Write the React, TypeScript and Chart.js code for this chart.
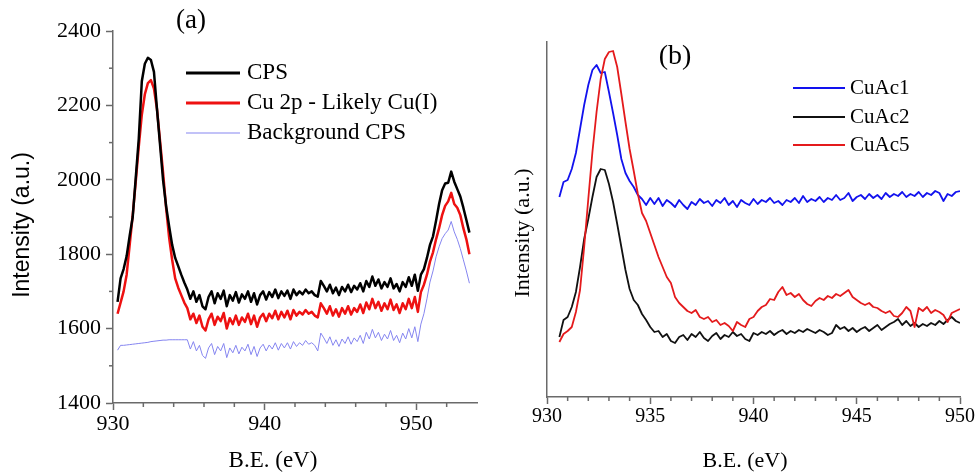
import React, { useEffect, useRef } from "react";
import { Chart, registerables } from "chart.js";

Chart.register(...registerables);

// ---------- Panel (a) data: energies start 930.3 eV, 0.2 eV spacing ----------
const A_START = 930.3;
const A_STEP = 0.2;
const A_CPS = [
  1672, 1735, 1760, 1795, 1850, 1900, 2005, 2111, 2265, 2312,
  2328, 2322, 2290, 2190, 2095, 2000, 1930, 1875, 1825, 1790,
  1768, 1745, 1724, 1705,
  1680, 1700, 1672, 1690, 1660,
  1652, 1685, 1700, 1668, 1695,
  1680, 1702, 1660, 1690, 1675,
  1698, 1670, 1692, 1680, 1700,
  1672, 1695, 1665, 1690, 1700,
  1678, 1698, 1685, 1705, 1682,
  1700, 1688, 1702, 1680, 1705,
  1690, 1700, 1692, 1705, 1695,
  1700, 1690, 1686, 1728, 1715,
  1700, 1718, 1695, 1710, 1690,
  1712, 1700, 1718, 1698, 1715,
  1705, 1722, 1700, 1728, 1712,
  1740, 1715, 1732, 1708, 1725,
  1712, 1735, 1708, 1720, 1700,
  1725, 1712, 1738, 1715, 1745,
  1702,
  1745, 1760, 1790, 1825, 1848, 1890, 1935, 1972, 1990, 1992,
  2022, 1995, 1975, 1955, 1925, 1892, 1858,
];
const A_CU2P = [
  1640, 1670, 1700, 1745, 1825, 1905, 1995, 2090, 2175, 2230,
  2260, 2268, 2245, 2190, 2105, 2020, 1925, 1845, 1785, 1735,
  1710, 1690, 1670, 1655,
  1625, 1640, 1615, 1635, 1605,
  1595, 1625, 1640, 1610, 1632,
  1620, 1642, 1600, 1628, 1612,
  1635, 1610, 1630, 1618, 1640,
  1612, 1635, 1605, 1630, 1640,
  1620, 1640, 1628, 1648, 1625,
  1645, 1630, 1648, 1625, 1650,
  1635, 1645, 1638, 1650, 1640,
  1645, 1635, 1630, 1668, 1655,
  1640, 1660, 1635, 1652, 1632,
  1655, 1640, 1660, 1638, 1655,
  1645, 1665, 1642, 1670, 1652,
  1680, 1655, 1672, 1648, 1668,
  1652, 1678, 1650, 1665, 1642,
  1668, 1652, 1680, 1655, 1685,
  1645,
  1698, 1718, 1745, 1780, 1805, 1840, 1870, 1905, 1930, 1942,
  1965, 1935, 1925, 1905, 1870, 1840, 1800,
];
const A_BG = [
  1542, 1555, 1555, 1556, 1557, 1558, 1559, 1560, 1561, 1562,
  1563, 1565, 1566, 1567, 1568, 1569, 1569, 1570, 1570, 1570,
  1570, 1570, 1570, 1570,
  1545, 1565, 1540, 1555, 1528,
  1520, 1548, 1560, 1530, 1552,
  1540, 1560, 1522, 1548, 1535,
  1555, 1532, 1550, 1540, 1558,
  1530, 1552, 1525, 1548, 1558,
  1540, 1556, 1545, 1562, 1542,
  1560, 1548, 1562, 1545, 1565,
  1552, 1562, 1555, 1568, 1558,
  1562, 1555, 1540, 1588, 1575,
  1560, 1578, 1555, 1570, 1552,
  1572, 1560, 1578, 1558, 1575,
  1565, 1582, 1560, 1590, 1572,
  1598, 1575, 1590, 1568, 1585,
  1572, 1595, 1568, 1582, 1562,
  1588, 1572, 1600, 1575, 1605,
  1565,
  1612, 1640, 1680, 1725, 1755, 1793, 1820, 1842, 1855, 1865,
  1888, 1860, 1840, 1815, 1785, 1755, 1722,
];
const A_LABELS = ["CPS", "Cu 2p - Likely Cu(I)", "Background CPS"];
const A_X_MAJOR = [930, 940, 950];
const A_X_MINOR = [932, 934, 936, 938, 942, 944, 946, 948, 952];
const A_Y_MAJOR = [1400, 1600, 1800, 2000, 2200, 2400];
const A_Y_MINOR = [1500, 1700, 1900, 2100, 2300];

// ---------- Panel (b) data: energies start 930.6 eV, 0.2 eV spacing ----------
const B_START = 930.6;
const B_STEP = 0.2;
const B_CUAC1 = [
  200, 215, 217, 228, 244,
  268, 292, 312, 327, 332,
  324, 325, 305, 284, 262,
  238, 224, 216, 210, 202,
  198, 192, 199, 193, 199,
  191, 197, 194, 190, 197,
  192, 188, 195, 192, 198,
  194, 196, 191, 197, 194,
  199, 192, 196, 190, 197,
  194, 192, 198, 193, 197,
  195, 199, 194, 196, 192,
  197, 195, 199, 194, 201,
  195, 198, 196, 200, 195,
  199, 197, 202, 197, 199,
  204, 196, 200, 202, 198,
  203, 199, 202, 198, 204,
  200, 203, 201, 205, 200,
  203, 201, 205, 200, 204,
  202, 206, 204, 196, 203,
  201, 205, 206,
];
const B_CUAC2 = [
  60, 77, 80, 90, 105,
  130, 158, 178, 200, 220,
  228, 227, 213, 195, 173,
  150, 127, 108, 97, 92,
  83, 77, 70, 65, 66,
  60, 63, 56, 54, 60,
  62, 57, 63, 60, 65,
  59, 56, 61, 64, 58,
  62, 60, 65, 61, 63,
  58, 56, 64, 62, 65,
  63, 66, 62, 65, 67,
  63, 66, 64, 67, 65,
  68, 66, 64, 67, 65,
  62, 64, 72, 68, 70,
  66, 69, 65, 68, 70,
  66, 69, 72, 67, 70,
  73, 75, 78, 72, 76,
  71, 74, 70, 73, 71,
  74, 72, 76, 73, 77,
  80, 76, 74,
];
const B_CUAC5 = [
  55, 63, 66, 70, 85,
  107, 150, 198, 245, 285,
  318, 338, 345, 346, 330,
  303, 275, 248, 226, 203,
  184, 176, 164, 152, 140,
  130, 120, 114, 100, 94,
  90, 86, 84, 87, 80,
  78, 80, 75, 77, 72,
  74, 71, 66, 75, 72,
  70, 78, 80, 86, 90,
  92, 98, 97, 105, 110,
  102, 104, 100, 103, 97,
  93, 91, 96, 99, 97,
  101, 99, 103, 101, 104,
  107, 100, 97, 94, 92,
  94, 90, 89, 86, 84,
  86, 81, 80, 84, 90,
  86, 70, 89, 86, 90,
  84, 87, 85, 82, 75,
  84, 86, 88,
];
const B_LABELS = ["CuAc1", "CuAc2", "CuAc5"];
const B_X_MAJOR = [930, 935, 940, 945, 950];
const B_X_MINOR = [931, 932, 933, 934, 936, 937, 938, 939, 941, 942, 943, 944, 946, 947, 948, 949];

const X_TITLE = "B.E. (eV)";
const Y_TITLE = "Intensity (a.u.)";

const SERIF = "'Liberation Serif', 'Times New Roman', serif";
const SANS = "'Liberation Sans', Arial, sans-serif";
const AXIS_COLOR = "#6a6a6a";

function toPoints(start: number, step: number, values: number[]) {
  return values.map((v, i) => ({ x: +(start + step * i).toFixed(2), y: v }));
}

function makeMinorTicks(cfg: { x: number[]; y: number[]; len: number }) {
  return {
    id: "minorTicks",
    afterDraw(chart: any) {
      const ctx = chart.ctx;
      const xs = chart.scales.x;
      const ys = chart.scales.y;
      ctx.save();
      ctx.strokeStyle = AXIS_COLOR;
      ctx.lineWidth = 1.5;
      cfg.x.forEach((v) => {
        const px = xs.getPixelForValue(v);
        ctx.beginPath();
        ctx.moveTo(px, xs.top);
        ctx.lineTo(px, xs.top + cfg.len);
        ctx.stroke();
      });
      cfg.y.forEach((v) => {
        const py = ys.getPixelForValue(v);
        ctx.beginPath();
        ctx.moveTo(ys.right, py);
        ctx.lineTo(ys.right - cfg.len, py);
        ctx.stroke();
      });
      ctx.restore();
    },
  };
}

function makeDecor(cfg: any) {
  return {
    id: "decor",
    afterDraw(chart: any) {
      const ctx = chart.ctx;
      ctx.save();
      ctx.fillStyle = "#000";
      ctx.textBaseline = "middle";
      ctx.textAlign = "center";
      ctx.font = cfg.panelFont;
      ctx.fillText(cfg.panel, cfg.panelX, cfg.panelY);
      ctx.font = cfg.xTitleFont;
      ctx.fillText(X_TITLE, cfg.xTitleX, cfg.xTitleY);
      ctx.save();
      ctx.translate(cfg.yTitleX, cfg.yTitleY);
      ctx.rotate(-Math.PI / 2);
      ctx.font = cfg.yTitleFont;
      ctx.fillText(Y_TITLE, 0, 0);
      ctx.restore();
      chart.data.datasets.forEach((ds: any, i: number) => {
        const y = cfg.legendY[i];
        ctx.strokeStyle = ds.borderColor;
        ctx.lineWidth = cfg.legendLW[i];
        ctx.beginPath();
        ctx.moveTo(cfg.legendX0, y);
        ctx.lineTo(cfg.legendX1, y);
        ctx.stroke();
        ctx.textAlign = "left";
        ctx.font = cfg.legendFont;
        ctx.fillText(ds.label, cfg.legendTextX, y);
      });
      ctx.restore();
    },
  };
}

const plainLabel = (v: any) => String(v);

function axisX(min: number, max: number, major: number[], fontSize: number, height: number) {
  return {
    type: "linear",
    min,
    max,
    afterBuildTicks: (s: any) => {
      s.ticks = major.map((v) => ({ value: v }));
    },
    afterFit: (s: any) => {
      s.height = height;
    },
    border: { display: true, color: AXIS_COLOR, width: 1.5 },
    grid: { drawOnChartArea: false, drawTicks: true, tickLength: 7, color: AXIS_COLOR, tickWidth: 1.5 },
    ticks: { color: "#000", font: { family: SERIF, size: fontSize }, padding: 1, maxRotation: 0, autoSkip: false, callback: plainLabel },
    title: { display: false },
  };
}

function PanelA() {
  const ref = useRef<HTMLCanvasElement>(null);
  useEffect(() => {
    const chart = new Chart(ref.current as HTMLCanvasElement, {
      type: "line",
      data: {
        datasets: [
          { label: A_LABELS[0], data: toPoints(A_START, A_STEP, A_CPS), borderColor: "#000000", borderWidth: 2.5, order: 0 },
          { label: A_LABELS[1], data: toPoints(A_START, A_STEP, A_CU2P), borderColor: "#ee1111", borderWidth: 2.5, order: 1 },
          { label: A_LABELS[2], data: toPoints(A_START, A_STEP, A_BG), borderColor: "#8585f0", borderWidth: 1, order: 2 },
        ] as any,
      },
      options: {
        animation: false,
        responsive: false,
        devicePixelRatio: 1,
        parsing: false as any,
        elements: { point: { radius: 0 }, line: { tension: 0, borderJoinStyle: "round" } },
        layout: { padding: { top: 31, right: 13, bottom: 0, left: 0 } },
        plugins: { legend: { display: false }, tooltip: { enabled: false } },
        scales: {
          x: axisX(930, 954, A_X_MAJOR, 22, 72) as any,
          y: {
            type: "linear",
            min: 1400,
            max: 2400,
            afterBuildTicks: (s: any) => {
              s.ticks = A_Y_MAJOR.map((v) => ({ value: v }));
            },
            afterFit: (s: any) => {
              s.width = 113;
            },
            border: { display: true, color: AXIS_COLOR, width: 1.5 },
            grid: { drawOnChartArea: false, drawTicks: true, tickLength: 7, color: AXIS_COLOR, tickWidth: 1.5 },
            ticks: { color: "#000", font: { family: SERIF, size: 22 }, padding: 5, callback: plainLabel },
            title: { display: false },
          } as any,
        },
      },
      plugins: [
        makeMinorTicks({ x: A_X_MINOR, y: A_Y_MINOR, len: 4 }),
        makeDecor({
          panel: "(a)", panelX: 191, panelY: 21, panelFont: `27px ${SERIF}`,
          xTitleX: 273, xTitleY: 461, xTitleFont: `23px ${SERIF}`,
          yTitleX: 23, yTitleY: 225, yTitleFont: `23px ${SANS}`,
          legendY: [73, 103, 133], legendLW: [3, 3, 1], legendX0: 186, legendX1: 240, legendTextX: 247,
          legendFont: `23px ${SERIF}`,
        }),
      ],
    });
    return () => chart.destroy();
  }, []);
  return <canvas ref={ref} width={490} height={475} style={{ position: "absolute", left: 0, top: 0 }} />;
}

function PanelB() {
  const ref = useRef<HTMLCanvasElement>(null);
  useEffect(() => {
    const chart = new Chart(ref.current as HTMLCanvasElement, {
      type: "line",
      data: {
        datasets: [
          { label: B_LABELS[0], data: toPoints(B_START, B_STEP, B_CUAC1), borderColor: "#1212ee", borderWidth: 1.8, order: 1 },
          { label: B_LABELS[1], data: toPoints(B_START, B_STEP, B_CUAC2), borderColor: "#111111", borderWidth: 1.8, order: 2 },
          { label: B_LABELS[2], data: toPoints(B_START, B_STEP, B_CUAC5), borderColor: "#e41a1c", borderWidth: 1.8, order: 0 },
        ] as any,
      },
      options: {
        animation: false,
        responsive: false,
        devicePixelRatio: 1,
        parsing: false as any,
        elements: { point: { radius: 0 }, line: { tension: 0, borderJoinStyle: "round" } },
        layout: { padding: { top: 42, right: 19, bottom: 0, left: 0 } },
        plugins: { legend: { display: false }, tooltip: { enabled: false } },
        scales: {
          x: axisX(930, 950, B_X_MAJOR, 20, 78) as any,
          y: {
            type: "linear",
            min: 0,
            max: 355,
            afterFit: (s: any) => {
              s.width = 57;
            },
            border: { display: true, color: AXIS_COLOR, width: 1.5 },
            grid: { drawOnChartArea: false, drawTicks: false },
            ticks: { display: false },
            title: { display: false },
          } as any,
        },
      },
      plugins: [
        makeMinorTicks({ x: B_X_MINOR, y: [], len: 4 }),
        makeDecor({
          panel: "(b)", panelX: 185, panelY: 57, panelFont: `28px ${SERIF}`,
          xTitleX: 255, xTitleY: 461, xTitleFont: `22px ${SERIF}`,
          yTitleX: 33, yTitleY: 233, yTitleFont: `22px ${SERIF}`,
          legendY: [88, 117, 145], legendLW: [2, 2, 2], legendX0: 303, legendX1: 355, legendTextX: 360,
          legendFont: `21px ${SERIF}`,
        }),
      ],
    });
    return () => chart.destroy();
  }, []);
  return <canvas ref={ref} width={489} height={475} style={{ position: "absolute", left: 490, top: 0 }} />;
}

export default function App() {
  return (
    <div style={{ position: "fixed", left: 0, top: 0, width: 979, height: 475, background: "#fff", overflow: "hidden" }}>
      <PanelA />
      <PanelB />
    </div>
  );
}
